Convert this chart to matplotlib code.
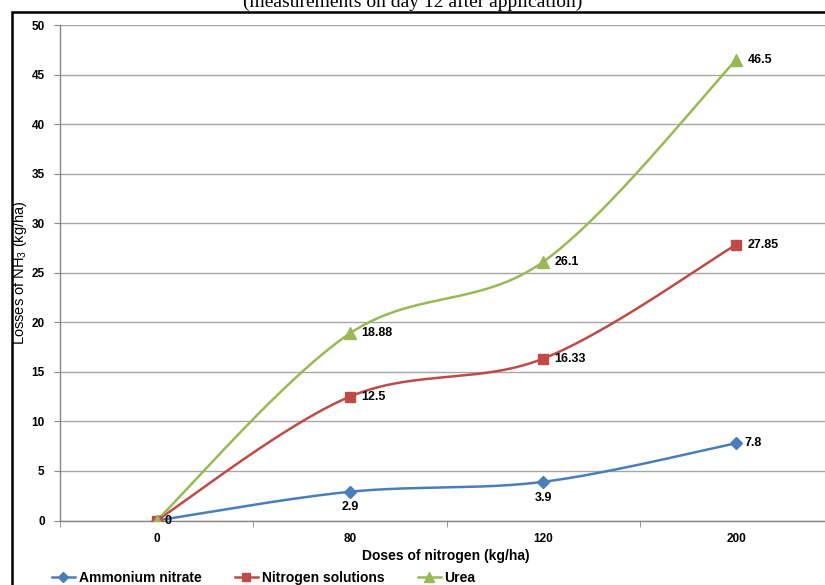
import matplotlib.pyplot as plt
from matplotlib.patches import Rectangle
import numpy as np

# data
doses = ['0', '80', '120', '200']
ammonium_nitrate = [0, 2.9, 3.9, 7.8]
nitrogen_solutions = [0, 12.5, 16.33, 27.85]
urea = [0, 18.88, 26.1, 46.5]
y_ticks = list(range(0, 55, 5))

W, H = 825, 585


def smooth(xs, ys, k, steps=60):
    """Excel-like smoothed line: cubic Bezier through the points (computed in screen-proportional space)."""
    p = np.column_stack((np.asarray(xs, float), np.asarray(ys, float) * k))
    n = len(p)
    out = []
    for i in range(n - 1):
        p0 = p[i - 1] if i > 0 else p[i]
        p1, p2 = p[i], p[i + 1]
        p3 = p[i + 2] if i + 2 < n else p[i + 1]
        c1 = p1 + (p2 - p0) / 6
        c2 = p2 - (p3 - p1) / 6
        t = np.linspace(0, 1, steps)[:, None]
        seg = ((1 - t) ** 3) * p1 + 3 * ((1 - t) ** 2) * t * c1 + 3 * (1 - t) * t ** 2 * c2 + t ** 3 * p2
        out.append(seg if i == 0 else seg[1:])
    seg = np.vstack(out)
    return seg[:, 0], seg[:, 1] / k


def main():
    plt.rcParams['font.family'] = ['Liberation Sans', 'DejaVu Sans']
    plt.rcParams['mathtext.fontset'] = 'custom'
    plt.rcParams['mathtext.rm'] = 'Liberation Sans'
    plt.rcParams['mathtext.default'] = 'regular'
    fig = plt.figure(figsize=(W / 100, H / 100), dpi=100)

    # plot area in pixels: x 60..833, y 25..520
    ax = fig.add_axes([60 / W, 1 - 520.5 / H, 773 / W, 495.5 / H])
    ax.set_xlim(0, 4)
    ax.set_ylim(0, 50)

    xpos = np.arange(len(doses)) + 0.5
    # pixel scale ratio (y units -> x units in screen space)
    k = (495.5 / 50) / (773 / 4)

    series = [
        ('Ammonium nitrate', ammonium_nitrate, '#4A7EBB', 'D', 6),
        ('Nitrogen solutions', nitrogen_solutions, '#BE4B48', 's', 7),
        ('Urea', urea, '#98B954', '^', 8),
    ]
    for name, vals, col, mk, ms in series:
        sx, sy = smooth(xpos, vals, k)
        ax.plot(sx, sy, color=col, lw=1.8, solid_capstyle='round', zorder=3)
        ax.plot(xpos, vals, ls='none', marker=mk, ms=ms, color=col, mec=col, zorder=4)
        ax.plot([], [], color=col, lw=1.8, marker=mk, ms=ms - 1, label=name)

    # data labels
    lab = dict(fontsize=9, fontweight='bold', color='black', zorder=5)
    for i, v in enumerate(ammonium_nitrate):
        if i in (1, 2):
            ax.annotate(f'{v:g}', (xpos[i], v), xytext=(0, -7), textcoords='offset points',
                        ha='center', va='top', **lab)
        else:
            ax.annotate(f'{v:g}', (xpos[i], v), xytext=(6, 0), textcoords='offset points',
                        ha='left', va='center', **lab)
    for vals in (nitrogen_solutions, urea):
        for i, v in enumerate(vals):
            if i == 0:
                continue
            ax.annotate(f'{v:g}', (xpos[i], v), xytext=(8, 0), textcoords='offset points',
                        ha='left', va='center', **lab)

    # axes styling
    ax.set_yticks(y_ticks)
    ax.set_yticklabels([str(t) for t in y_ticks], fontsize=8.5, fontweight='bold')
    ax.set_xticks(xpos)
    ax.set_xticklabels(doses, fontsize=8.5, fontweight='bold')
    ax.set_xticks(np.arange(0, 5), minor=True)
    ax.tick_params(axis='x', which='major', length=0, pad=9)
    ax.tick_params(axis='x', which='minor', length=4, color='#868686', direction='out')
    ax.tick_params(axis='y', length=4, color='#868686', pad=7)
    ax.grid(axis='y', color='#A6A6A6', lw=1)
    ax.set_axisbelow(True)
    for s in ('top', 'right'):
        ax.spines[s].set_visible(False)
    for s in ('left', 'bottom'):
        ax.spines[s].set_color('#868686')
        ax.spines[s].set_linewidth(1)

    ax.set_xlabel('Doses of nitrogen (kg/ha)', fontsize=10, fontweight='bold')
    ax.xaxis.set_label_coords((446 - 60) / 773, -(549 - 520.5) / 495.5)
    ax.set_ylabel('Losses of NH$_3$ (kg/ha)', fontsize=10.5)
    ax.yaxis.set_label_coords(-(60 - 29) / 773, 0.5)

    fig.legend(loc='center left', bbox_to_anchor=(52 / W, 1 - 578 / H), ncol=3, frameon=False,
               prop={'size': 10, 'weight': 'bold'}, handlelength=1.65, handletextpad=0.28,
               columnspacing=2.4, borderaxespad=0, borderpad=0)

    # cut-off title at the top
    fig.text(0.5, 1 - 7 / H, '(measurements on day 12 after application)', ha='center', va='baseline',
             fontsize=14, family='Liberation Serif')

    # outer frame of the original chart (right and bottom are cut off)
    fig.patches.append(Rectangle((12 / W, -0.1), 1.2, 1 - 12 / H + 0.1, transform=fig.transFigure,
                                 fill=False, ec='black', lw=1.8))

    fig.savefig('out.png', dpi=100)


if __name__ == "__main__":
    main()
